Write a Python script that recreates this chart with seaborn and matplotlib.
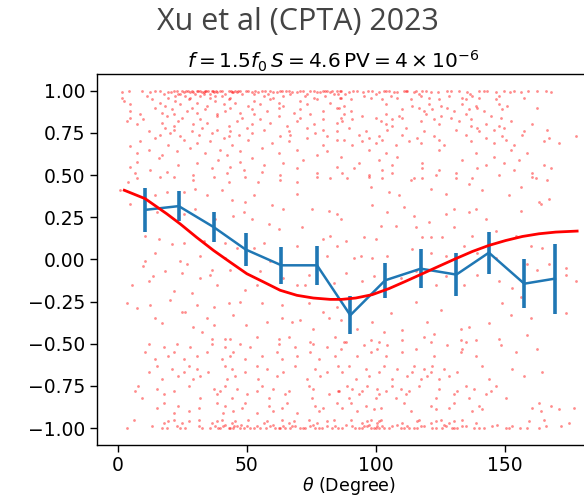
import matplotlib
matplotlib.use("Agg")
import matplotlib.pyplot as plt
import seaborn as sns
import numpy as np
import pandas as pd

# ---------------- data ----------------
# scatter points as flat (theta, correlation) pairs, grouped by region
pts_upper_left = [
    1.6,0.99, 4.4,1.0, 9.3,1.0, 12.5,0.99, 14.5,1.0, 16.4,1.0, 19.6,0.99, 21.6,1.0, 24.8,1.0, 25.5,0.99,
    28.7,1.0, 29.3,0.99, 30.6,1.0, 31.9,1.0, 33.2,0.99, 35.1,1.0, 36.4,1.0, 37.1,0.99, 40.3,1.0, 42.9,1.0,
    44.8,0.99, 47.4,1.0, 50.6,1.0, 51.9,0.99, 57.1,1.0, 59,1.0, 61.6,0.99, 62.9,1.0, 66.2,1.0, 69.4,0.99,
    71.9,1.0, 74.5,1.0, 77.1,0.99, 79.7,1.0, 81,1.0, 82.3,0.99, 84.9,1.0, 86.2,1.0, 27,1.0, 32.5,0.99,
    34,1.0, 38,1.0, 45.5,1.0, 46,0.99, 53,1.0, 60,0.99, 65,1.0, 83,1.0,
    20.5,0.99, 22.8,1.0, 23.9,0.98, 26.5,1.0, 27.8,0.99, 30,0.98, 31.2,1.0, 33.8,1.0, 35.6,0.98, 36.9,1.0,
    38.6,0.99, 39.4,1.0, 41.5,0.98, 43.8,1.0, 44.2,0.99, 46.7,1.0, 48.2,0.98, 49.5,1.0, 54.3,0.99, 55.8,1.0,
    58.2,0.98, 63.5,1.0, 67.5,0.99, 70.6,1.0, 73.2,0.98, 76,1.0, 78.4,0.99, 80.2,1.0, 85.5,0.98,
    1.6,0.96, 11.2,0.97, 17.7,0.98, 19.6,0.96, 22.2,0.97, 23.5,0.98, 26.1,0.97, 28.0,0.96, 31.9,0.97, 33.2,0.98,
    35.8,0.96, 37.7,0.97, 40.3,0.97, 43.5,0.96, 52.6,0.98, 56.5,0.97, 60.3,0.96, 64.2,0.97, 66.8,0.98, 72.6,0.97,
    75.9,0.96, 80.4,0.97, 83.6,0.98, 86.2,0.96,
    2.2,0.94, 4.8,0.92, 13.2,0.95, 16.4,0.93, 18.3,0.91, 22.2,0.94, 24.2,0.92, 27.4,0.95, 30.6,0.93, 34.5,0.91,
    37.7,0.94, 41,0.92, 42.9,0.95, 45.5,0.93, 50.6,0.91, 52.6,0.94, 55.2,0.92, 59,0.95, 62.3,0.93, 64.2,0.91,
    70.7,0.94, 73.3,0.92, 77.1,0.95, 82.3,0.93, 87.5,0.91,
    4.8,0.88, 8.7,0.86, 14.5,0.90, 17.1,0.87, 20.9,0.89, 21.6,0.86, 26.8,0.88, 28.7,0.90, 30.6,0.87, 33.9,0.89,
    38.4,0.86, 41.6,0.88, 43.5,0.90, 47.4,0.87, 51.9,0.89, 52.6,0.86, 57.8,0.88, 62.3,0.90, 68.1,0.87, 70.7,0.89,
    74.5,0.86, 79.7,0.88, 84.9,0.90,
    3.5,0.82, 4.8,0.84, 7.4,0.80, 9.9,0.83, 17.1,0.81, 19,0.85, 21.6,0.79, 23.5,0.82, 24.8,0.84, 29.3,0.80,
    31.9,0.83, 34.5,0.81, 38.4,0.85, 42.9,0.79, 46.1,0.82, 48.1,0.84, 51.9,0.80, 55.2,0.83, 59,0.81, 62.3,0.85,
    65.5,0.79, 69.4,0.82, 70.7,0.84, 75.9,0.80, 79.7,0.83, 84.9,0.81,
    11.9,0.76, 16.4,0.74, 18.3,0.78, 20.3,0.75, 21.6,0.77, 24.2,0.73, 28.7,0.76, 31.3,0.74, 32.6,0.78, 36.4,0.75,
    38.4,0.77, 42.9,0.73, 43.5,0.76, 46.8,0.74, 50,0.78, 51.9,0.75, 56.5,0.77, 62.9,0.73, 66.2,0.76, 66.8,0.74,
    73.3,0.78, 76.5,0.75, 79.7,0.77, 81,0.73, 84.9,0.76,
    4.8,0.67, 7.4,0.63, 8.7,0.70, 11.9,0.65, 14.5,0.72, 17.1,0.62, 19.6,0.68, 22.9,0.64, 25.5,0.71, 28,0.66,
    30.6,0.69, 33.9,0.63, 35.8,0.70, 39.7,0.65, 41,0.72, 42.3,0.62, 44.2,0.68, 47.4,0.64, 50.6,0.71, 55.8,0.66,
    59.7,0.69, 62.3,0.63, 66.2,0.70, 69.4,0.65, 73.3,0.72, 77.1,0.62, 79.7,0.68, 81,0.64, 84.9,0.71,
    4.8,0.55, 6.7,0.51, 7.4,0.58, 12.5,0.53, 15.8,0.60, 19,0.52, 23.5,0.56, 29.3,0.50, 30.6,0.57, 36.4,0.54,
    39,0.59, 42.3,0.51, 43.5,0.55, 47.4,0.58, 48.7,0.53, 51.9,0.60, 55.8,0.52, 56.5,0.56, 62.9,0.50, 64.2,0.57,
    69.4,0.54, 71.9,0.59, 77.1,0.51, 84.9,0.55,
]
pts_upper_right = [
    86.3,1.0, 89.6,0.99, 92.8,1.0, 98.6,1.0, 101.2,0.99, 103.1,1.0, 105.1,1.0, 108.3,0.99, 110.9,1.0, 112.2,1.0,
    114.8,0.99, 115.4,1.0, 118,1.0, 121.2,0.99, 127.7,1.0, 132.2,1.0, 135.4,0.99, 140,1.0, 143.2,1.0, 146.4,0.99,
    149.7,1.0, 153.5,1.0, 156.1,0.99, 162.6,1.0, 165.8,1.0,
    88,0.98, 91,1.0, 95,0.99, 97,1.0, 100,0.98, 104,1.0, 107,0.99, 111.5,1.0, 116.8,0.98, 119.5,1.0,
    124,0.99, 129,1.0, 136.5,0.98, 142,1.0, 152,0.99, 159,1.0, 168,0.99,
    86.3,0.96, 90.2,0.95, 95.4,0.97, 98,0.96, 102.5,0.95, 105.7,0.97, 108.3,0.96, 113.5,0.95, 117.4,0.97, 120.6,0.96,
    124.5,0.95, 128.3,0.97, 133.5,0.96, 134.8,0.95, 137.4,0.97, 140,0.96, 146.4,0.95, 147.7,0.97, 157.4,0.96,
    85.7,0.90, 90.2,0.88, 103.8,0.92, 110.2,0.89, 114.1,0.91, 116.7,0.90, 118.6,0.88, 120.6,0.92, 121.9,0.89, 125.1,0.91,
    127.7,0.90, 130.3,0.88, 133.5,0.92, 136.1,0.89, 138.7,0.91, 139.3,0.90, 141.9,0.88, 147.7,0.92, 149,0.89, 150.9,0.91,
    162.6,0.90,
    86.3,0.84, 87,0.82, 87.6,0.86, 90.9,0.83, 94.7,0.85, 99.9,0.84, 101.9,0.82, 103.8,0.86, 106.4,0.83, 109,0.85,
    110.2,0.84, 117.4,0.82, 119.3,0.86, 122.5,0.83, 125.1,0.85, 129,0.84, 132.2,0.82, 134.8,0.86, 136.7,0.83, 144.5,0.85,
    148.4,0.84, 152.2,0.82,
    89.6,0.78, 96,0.76, 103.8,0.80, 104.4,0.77, 106.4,0.79, 111.5,0.78, 118.6,0.76, 124.5,0.80, 130.9,0.77, 136.7,0.79,
    139.3,0.78, 140,0.76, 142.5,0.80, 145.8,0.77, 147.7,0.79, 149.7,0.78, 157.4,0.76, 160.6,0.80, 166.4,0.77,
    87.6,0.71, 90.9,0.68, 93.5,0.74, 94.7,0.70, 97.3,0.72, 99.9,0.69, 101.2,0.73, 102.5,0.71, 107.7,0.68, 110.2,0.74,
    112.8,0.70, 116.1,0.72, 117.4,0.69, 122.5,0.73, 124.5,0.71, 126.4,0.68, 134.8,0.74, 136.7,0.70, 142.5,0.72, 145.8,0.69,
    149,0.73, 150.3,0.71, 153.5,0.68, 156.8,0.74, 165.2,0.70, 167.1,0.72, 171,0.69, 177.4,0.73,
    86.3,0.61, 93.5,0.57, 97.3,0.65, 101.2,0.59, 103.8,0.63, 106.4,0.56, 108.3,0.61, 118,0.57, 124.5,0.65, 133.5,0.59,
    138.7,0.63, 142.5,0.56, 145.8,0.61, 149.7,0.57, 152.2,0.65, 155.5,0.59, 158.7,0.63, 165.2,0.56,
    87,0.51, 88.9,0.48, 91.5,0.54, 97.3,0.50, 102.5,0.53, 106.4,0.51, 114.8,0.48, 118,0.54, 123.2,0.50, 124.5,0.53,
    130.9,0.51, 137.4,0.48, 139.3,0.54, 147.7,0.50, 153.5,0.53, 160.6,0.51, 161.9,0.48, 167.7,0.54,
]
pts_middle_left = [
    4.1,0.46, 7.4,0.48, 16.4,0.49, 21.6,0.49, 29.3,0.47, 37.1,0.49, 42.9,0.46, 49.4,0.49, 54.5,0.46, 62.9,0.47,
    69.4,0.46, 77.1,0.49, 82.3,0.48,
    0.9,0.41, 4.8,0.33, 14.5,0.38, 19,0.40, 25.5,0.40, 30,0.42, 34.5,0.38, 40.3,0.41, 44.2,0.35, 49.4,0.34,
    52.6,0.38, 59.7,0.32, 64.2,0.30, 69.4,0.39, 75.2,0.30, 81.7,0.29, 84.9,0.27,
    15.1,0.28, 25.5,0.27, 30,0.30, 37.7,0.24, 44.8,0.26, 48.7,0.28, 51.9,0.24, 58.4,0.21, 62.3,0.18, 71.3,0.19,
    82.3,0.14, 84.9,0.08,
    10.6,0.14, 15.8,0.12, 20.9,0.09, 25.5,0.10, 33.2,0.11, 41.6,0.10, 46.1,0.07, 52.6,0.07, 56.5,0.10, 69.4,0.08,
    79.7,0.12,
    9.9,-0.04, 10.6,-0.01, 14.5,0.04, 18.3,-0.07, 24.2,-0.01, 26.8,-0.03, 31.9,0.02, 36.4,-0.06, 41.6,0.01, 43.5,-0.06,
    55.2,-0.07, 58.9,-0.01, 73.9,-0.09, 81,0.02,
    5.4,-0.15, 11.9,-0.13, 13.8,-0.10, 21.6,-0.19, 24.8,-0.08, 28.7,-0.20, 31.9,-0.11, 35.8,-0.09, 38.4,-0.15, 49.4,-0.18,
    53.9,-0.15, 64.2,-0.11, 69.4,-0.15, 72.6,-0.15, 83.6,-0.14,
    3.5,-0.26, 7.4,-0.29, 12.5,-0.27, 20.3,-0.24, 26.1,-0.31, 30.6,-0.27, 37.1,-0.28, 42.9,-0.26, 47.4,-0.25, 55.8,-0.26,
    63.6,-0.27, 73.9,-0.26, 79.7,-0.31, 84.9,-0.28,
    14.5,-0.35, 17.1,-0.38, 24.8,-0.31, 29.3,-0.40, 34.5,-0.35, 37.1,-0.39, 44.8,-0.33, 49.8,-0.39, 57.8,-0.37, 63.6,-0.35,
    67.4,-0.37, 70.7,-0.36, 75.8,-0.41, 81.7,-0.35,
    32.6,-0.43, 36.4,-0.47, 41.6,-0.47, 43.5,-0.47, 53.9,-0.46, 62.3,-0.47, 66.2,-0.46, 74.5,-0.49, 84.2,-0.46,
]
pts_middle_right = [
    97.3,0.49, 102.5,0.48, 113.5,0.47, 118,0.48, 130.9,0.48, 160.6,0.49, 166.5,0.47,
    98,0.43, 105.1,0.40, 109,0.38, 121.2,0.42, 127,0.39, 136.1,0.45, 141.3,0.41, 151.6,0.38, 156.1,0.43, 163.2,0.34,
    167.1,0.36,
    98.6,0.32, 104.4,0.28, 110.9,0.31, 114.8,0.26, 120.6,0.22, 127,0.27, 130.3,0.30, 136.1,0.28, 138.7,0.30, 142.5,0.24,
    156.1,0.29, 163.9,0.33,
    86.3,0.24, 88.3,0.11, 95.4,0.13, 99.9,0.12, 101.9,0.20, 107.7,0.20, 115.4,0.19, 118,0.13, 121.2,0.13, 125.7,0.13,
    130.3,0.19, 137.4,0.14, 146.4,0.17, 154.2,0.14, 160,0.08, 164.5,0.07,
    91.5,0.01, 94.1,0.02, 98.6,0.01, 104.4,0.02, 114.1,0.06, 121.2,0.04, 127,0.02, 134.1,0.08, 139.3,0.04, 146.4,0.01,
    158.7,-0.03, 167.1,-0.03, 173.6,-0.05,
    88.3,-0.08, 94.7,-0.13, 99.3,-0.10, 109.6,-0.11, 115.4,-0.07, 123.2,-0.15, 127,-0.10, 134.1,-0.15, 139.3,-0.09, 147.7,-0.13,
    152.9,-0.17, 162.6,-0.06, 173.6,-0.09, 177.4,-0.13,
    86.3,-0.36, 92.8,-0.41, 98.6,-0.37, 105.7,-0.32, 110.2,-0.42, 115.4,-0.25, 119.9,-0.37, 125.1,-0.30, 132.9,-0.41, 136.1,-0.40,
    143.8,-0.38, 149,-0.26, 152.2,-0.33, 156.1,-0.22, 160,-0.35, 173.6,-0.32,
    87.6,-0.49, 98,-0.48, 103.1,-0.43, 110.2,-0.48, 118.6,-0.46, 122.5,-0.44, 132.9,-0.48, 138.7,-0.48, 147.7,-0.47, 158.7,-0.45,
]
pts_lower_left = [
    3.5,-1.0, 13.2,-0.99, 17.1,-1.0, 19,-1.0, 22.9,-0.99, 24.2,-1.0, 26.1,-1.0, 31.3,-0.99, 32.6,-1.0, 35.8,-1.0,
    37.7,-0.99, 39,-1.0, 39.7,-1.0, 40.9,-0.99, 42.9,-1.0, 44.8,-1.0, 46.1,-0.99, 47.4,-1.0, 48.7,-1.0, 50,-0.99,
    52.6,-1.0, 55.2,-1.0, 59,-0.99, 61,-1.0, 62.3,-1.0, 64.2,-0.99, 64.9,-1.0, 66.8,-1.0, 68.7,-0.99, 70.7,-1.0,
    72.6,-1.0, 74.5,-0.99, 76.5,-1.0, 77.8,-1.0, 81,-0.99, 82.9,-1.0, 85.5,-1.0,
    41.5,-0.98, 43.5,-1.0, 45.2,-0.99, 47.9,-0.98, 51.2,-1.0, 53.8,-0.99, 57.3,-1.0, 60.2,-0.98, 63,-1.0, 67.5,-0.99,
    71.6,-1.0, 75.5,-0.98, 79,-1.0, 84,-0.99,
    6.1,-0.95, 17.7,-0.97, 19.6,-0.96, 21.6,-0.95, 24.8,-0.97, 27.4,-0.96, 31.3,-0.95, 36.4,-0.97, 38.4,-0.96, 40.3,-0.95,
    44.2,-0.97, 45.5,-0.96, 50.6,-0.95, 56.5,-0.97, 57.8,-0.96, 63.6,-0.95, 66.2,-0.97, 68.1,-0.96, 74,-0.95, 77.1,-0.97,
    81,-0.96, 83.6,-0.95,
    15.1,-0.88, 17.7,-0.85, 21.6,-0.91, 23.5,-0.87, 27.4,-0.90, 31.3,-0.88, 38.4,-0.85, 40.9,-0.91, 41.6,-0.87, 44.8,-0.90,
    48.1,-0.88, 49.4,-0.85, 53.9,-0.91, 58.4,-0.87, 60.3,-0.90, 63.6,-0.88, 65.5,-0.85, 69.4,-0.91, 76.5,-0.87, 77.8,-0.90,
    79.7,-0.88, 84.9,-0.85,
    6.7,-0.78, 8,-0.75, 9.3,-0.82, 15.1,-0.77, 17.7,-0.80, 21.6,-0.78, 27.4,-0.75, 31.9,-0.82, 37.1,-0.77, 38.4,-0.80,
    39.7,-0.78, 41.6,-0.75, 44.2,-0.82, 46.1,-0.77, 50,-0.80, 53.9,-0.78, 55.8,-0.75, 58.4,-0.82, 60.3,-0.77, 64.9,-0.80,
    66.2,-0.78, 73.9,-0.75, 75.2,-0.82, 75.8,-0.77, 81.7,-0.80, 85.5,-0.78,
    11.9,-0.67, 15.1,-0.63, 17.1,-0.71, 20.9,-0.65, 23.5,-0.69, 25.5,-0.67, 27.4,-0.63, 29.3,-0.71, 30.6,-0.65, 31.9,-0.69,
    35.1,-0.67, 41.6,-0.63, 42.3,-0.71, 44.2,-0.65, 45.5,-0.69, 49.4,-0.67, 53.9,-0.63, 54.5,-0.71, 57.8,-0.65, 61.6,-0.69,
    64.2,-0.67, 68.7,-0.63, 73.3,-0.71, 76.5,-0.65, 78.4,-0.69, 81,-0.67, 85.5,-0.63,
    10.6,-0.55, 11.9,-0.50, 14.5,-0.59, 17.7,-0.52, 19.6,-0.57, 21.6,-0.55, 22.9,-0.50, 25.5,-0.59, 28,-0.52, 30.6,-0.57,
    34.5,-0.55, 36.4,-0.50, 40.3,-0.59, 41.6,-0.52, 43.5,-0.57, 44.8,-0.55, 47.4,-0.50, 49.4,-0.59, 51.3,-0.52, 55.8,-0.57,
    61.6,-0.55, 62.3,-0.50, 63.6,-0.59, 68.7,-0.52, 69.4,-0.57, 74.5,-0.55, 75.8,-0.50, 77.8,-0.59, 81,-0.52, 84.2,-0.57,
]
pts_lower_right = [
    87,-1.0, 90.9,-0.99, 93.5,-1.0, 94.7,-1.0, 96.7,-0.99, 98,-1.0, 99.9,-1.0, 100.6,-0.99, 101.2,-1.0, 103.1,-1.0,
    106.4,-0.99, 109.6,-1.0, 110.9,-1.0, 112.2,-0.99, 114.8,-1.0, 116.1,-1.0, 118.6,-0.99, 123.2,-1.0, 125.7,-1.0, 127,-0.99,
    130.3,-1.0, 131.6,-1.0, 134.8,-0.99, 140,-1.0, 141.9,-1.0, 145.1,-0.99, 150.3,-1.0, 151.6,-1.0, 152.9,-0.99, 158.7,-1.0,
    163.2,-1.0, 171.6,-0.99,
    88.5,-0.98, 92,-1.0, 95.5,-0.99, 97.2,-0.98, 99.2,-1.0, 102.3,-0.99, 105,-1.0, 108,-0.98, 113,-1.0, 117.5,-0.99,
    121.8,-1.0, 126.5,-0.98, 129.5,-1.0, 133.5,-0.99, 138,-1.0, 147,-0.98, 156,-1.0, 166,-0.99,
    90.2,-0.95, 94.7,-0.97, 96.7,-0.96, 98,-0.95, 100.6,-0.97, 101.2,-0.96, 101.9,-0.95, 110.2,-0.97, 116.1,-0.96, 116.7,-0.95,
    121.2,-0.97, 123.2,-0.96, 125.1,-0.95, 128.3,-0.97, 130.3,-0.96, 133.5,-0.95, 138.7,-0.97, 159.3,-0.96, 165.2,-0.95, 174.8,-0.97,
    87,-0.88, 90.2,-0.85, 92.8,-0.90, 96,-0.87, 99.3,-0.89, 101.9,-0.88, 110.9,-0.85, 113.5,-0.90, 121.2,-0.87, 123.2,-0.89,
    128.3,-0.88, 130.3,-0.85, 137.4,-0.90, 140,-0.87, 141.3,-0.89, 160.6,-0.88, 163.2,-0.85, 163.9,-0.90, 167.7,-0.87, 171,-0.89,
    176.8,-0.88,
    85.7,-0.78, 88.9,-0.75, 89.6,-0.82, 90.9,-0.77, 93.5,-0.80, 94.7,-0.78, 96.7,-0.75, 99.9,-0.82, 100.6,-0.77, 101.2,-0.80,
    103.8,-0.78, 106.4,-0.75, 107.7,-0.82, 109.6,-0.77, 111.5,-0.80, 112.8,-0.78, 116.7,-0.75, 123.2,-0.82, 124.5,-0.77, 130.3,-0.80,
    131.6,-0.78, 134.8,-0.75, 136.1,-0.82, 138,-0.77, 142.5,-0.80, 144.5,-0.78, 146.4,-0.75, 150.3,-0.82,
    87,-0.67, 89.6,-0.63, 92.2,-0.71, 96,-0.65, 97.3,-0.69, 101.2,-0.67, 103.1,-0.63, 106.4,-0.71, 108.3,-0.65, 112.2,-0.69,
    114.1,-0.67, 114.8,-0.63, 117.4,-0.71, 118.6,-0.65, 119.9,-0.69, 121.2,-0.67, 121.9,-0.63, 124.5,-0.71, 126.4,-0.65, 128.3,-0.69,
    131.6,-0.67, 141.3,-0.63, 143.8,-0.71, 152.9,-0.65, 157.4,-0.69, 164.5,-0.67,
    86.3,-0.53, 88.3,-0.49, 92.8,-0.57, 95.4,-0.51, 98,-0.55, 100.6,-0.53, 101.2,-0.49, 103.8,-0.57, 104.4,-0.51, 110.2,-0.55,
    115.4,-0.53, 121.2,-0.49, 122.5,-0.57, 127.7,-0.51, 132.9,-0.55, 133.5,-0.53, 134.8,-0.49, 138.7,-0.57, 148.4,-0.51, 154.2,-0.55,
    162.6,-0.53,
]

# binned means with error bars (blue)
bin_theta = [10.7, 23.6, 37.2, 49.5, 63.4, 77.2, 90.1, 103.6, 117.4, 131.2, 143.8, 157.5, 169.4]
bin_mean = [0.294, 0.316, 0.191, 0.059, -0.035, -0.035, -0.331, -0.124, -0.055, -0.090, 0.040, -0.144, -0.114]
bin_err = [0.130, 0.089, 0.089, 0.096, 0.111, 0.117, 0.114, 0.105, 0.117, 0.126, 0.124, 0.145, 0.207]

# model curve (red)
curve_theta = [2.5, 10.6, 19.0, 24.2, 30.6, 37.1, 43.5, 50.0, 56.5, 62.9, 69.4, 75.8, 82.3, 86.8,
               92.2, 98.6, 105.1, 111.5, 118.0, 124.5, 130.9, 137.4, 143.8, 150.3, 156.8, 163.2, 169.7, 178.0]
curve_val = [0.41, 0.36, 0.27, 0.21, 0.13, 0.053, -0.016, -0.085, -0.134, -0.183, -0.213, -0.229, -0.237, -0.237,
             -0.229, -0.209, -0.173, -0.130, -0.085, -0.040, 0.004, 0.047, 0.083, 0.112, 0.136, 0.152, 0.162, 0.168]

y_ticks = [-1.0, -0.75, -0.5, -0.25, 0.0, 0.25, 0.5, 0.75, 1.0]
x_ticks = [0, 50, 100, 150]

# ---------------- figure ----------------
all_pts = (pts_upper_left + pts_upper_right + pts_middle_left + pts_middle_right
           + pts_lower_left + pts_lower_right)
scatter_df = pd.DataFrame({"theta": all_pts[0::2], "corr": all_pts[1::2]})
curve_df = pd.DataFrame({"theta": curve_theta, "val": curve_val})
bins_df = pd.DataFrame({"theta": bin_theta, "mean": bin_mean, "err": bin_err})

fig = plt.figure(figsize=(5.84, 4.96), dpi=100)
ax = fig.add_axes([0.166, 0.103, 0.862, 0.748])

sns.scatterplot(data=scatter_df, x="theta", y="corr", ax=ax, color="red", s=4,
                marker="o", linewidth=0, alpha=0.45, legend=False, zorder=1)
ax.errorbar(bins_df["theta"], bins_df["mean"], yerr=bins_df["err"], fmt="none",
            ecolor="#1f77b4", elinewidth=2.6, capsize=0, zorder=3)
sns.lineplot(data=bins_df, x="theta", y="mean", ax=ax, color="#1f77b4", linewidth=1.8,
             legend=False, zorder=3, sort=False)
sns.lineplot(data=curve_df, x="theta", y="val", ax=ax, color="red", linewidth=2.0,
             legend=False, zorder=4, sort=False)

ax.set_xlim(-8.1, 187)
ax.set_ylim(-1.1, 1.1)
ax.set_xticks(x_ticks)
ax.set_yticks(y_ticks)
ax.set_yticklabels([f"{v:.2f}".replace("-", "\u2212") for v in y_ticks])
ax.tick_params(labelsize=13.5, length=5, width=1.0)
ax.tick_params(axis="x", pad=3)
for sp in ax.spines.values():
    sp.set_linewidth(1.0)
ax.set_xlabel(r"$\theta$ (Degree)", fontsize=12.5, labelpad=0)
ax.set_ylabel("")
ax.set_title(r"$f = 1.5f_0\,S = 4.6\,\mathrm{PV} = 4\times10^{-6}$", fontsize=14.5, x=0.47, pad=4)
fig.suptitle("Xu et al (CPTA) 2023", fontsize=22, color="#444444", family=["Open Sans", "DejaVu Sans"],
             x=0.51, y=0.985)

fig.savefig("out.png", dpi=100)
